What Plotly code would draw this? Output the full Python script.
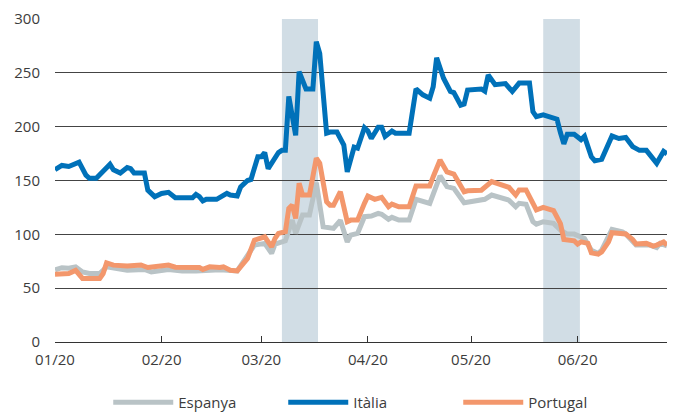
import plotly.graph_objects as go

# ---- Data ----
italia_dates = ["2020-01-01","2020-01-03","2020-01-05","2020-01-08","2020-01-10","2020-01-11","2020-01-13","2020-01-14",
    "2020-01-17","2020-01-18","2020-01-19","2020-01-20","2020-01-22","2020-01-23","2020-01-24","2020-01-27","2020-01-28",
    "2020-01-30","2020-02-01","2020-02-03","2020-02-05","2020-02-07","2020-02-10","2020-02-11","2020-02-12","2020-02-13",
    "2020-02-14","2020-02-17","2020-02-20","2020-02-21","2020-02-23","2020-02-24","2020-02-26","2020-02-27","2020-02-29",
    "2020-03-01","2020-03-02","2020-03-03","2020-03-04","2020-03-06","2020-03-07","2020-03-08","2020-03-09","2020-03-11",
    "2020-03-12","2020-03-14","2020-03-16","2020-03-17","2020-03-18","2020-03-20","2020-03-21","2020-03-23","2020-03-25",
    "2020-03-26","2020-03-28","2020-03-29","2020-03-31","2020-04-01","2020-04-02","2020-04-04","2020-04-05","2020-04-06",
    "2020-04-08","2020-04-09","2020-04-13","2020-04-15","2020-04-17","2020-04-19","2020-04-20","2020-04-21","2020-04-23",
    "2020-04-25","2020-04-26","2020-04-28","2020-04-29","2020-04-30","2020-05-04","2020-05-05","2020-05-06","2020-05-08",
    "2020-05-11","2020-05-13","2020-05-15","2020-05-18","2020-05-19","2020-05-20","2020-05-22","2020-05-24","2020-05-26",
    "2020-05-27","2020-05-28","2020-05-29","2020-05-31","2020-06-02","2020-06-03","2020-06-05","2020-06-06","2020-06-08",
    "2020-06-10","2020-06-11","2020-06-13","2020-06-15","2020-06-17","2020-06-19","2020-06-21","2020-06-24","2020-06-26",
    "2020-06-27"]
italia_values = [160,164,163,167,155,152,152,155,
    165,160,159,157,162,161,157,157,141,
    135,138,139,134,134,134,137,135,131,
    132.5,132.5,138,136.5,135.6,144,150,151,172,
    172,176,161,166,176,178,178,228,192,
    251,235,235,279,268,194,195,195,183,
    158,181,180,199,196,189,199.5,199.5,191,
    196,194,194,235,229.6,226.5,237,264,245,
    232.7,231.7,220,221,234,235,233,248,239,
    240,232.7,240.5,240.5,214,209.4,211,209.4,207,
    194.5,184,193,193,188,191,172,168.4,169.7,
    184.6,191.4,189,190,181.5,178,178,166,177,
    174.7]

portugal_dates = ["2020-01-01","2020-01-03","2020-01-05","2020-01-07","2020-01-09","2020-01-14","2020-01-15","2020-01-16",
    "2020-01-18","2020-01-22","2020-01-26","2020-01-28","2020-01-30","2020-02-01","2020-02-03","2020-02-05","2020-02-12",
    "2020-02-13","2020-02-15","2020-02-18","2020-02-19","2020-02-21","2020-02-23","2020-02-26","2020-02-28","2020-03-02",
    "2020-03-04","2020-03-05","2020-03-06","2020-03-08","2020-03-09","2020-03-10","2020-03-11","2020-03-12","2020-03-13",
    "2020-03-15","2020-03-17","2020-03-18","2020-03-20","2020-03-21","2020-03-22","2020-03-24","2020-03-26","2020-03-27",
    "2020-03-29","2020-03-31","2020-04-01","2020-04-03","2020-04-05","2020-04-07","2020-04-08","2020-04-10","2020-04-13",
    "2020-04-15","2020-04-19","2020-04-20","2020-04-22","2020-04-24","2020-04-26","2020-04-29","2020-04-30","2020-05-04",
    "2020-05-07","2020-05-09","2020-05-11","2020-05-12","2020-05-14","2020-05-15","2020-05-17","2020-05-19","2020-05-20",
    "2020-05-22","2020-05-25","2020-05-27","2020-05-28","2020-05-31","2020-06-01","2020-06-02","2020-06-04","2020-06-05",
    "2020-06-07","2020-06-08","2020-06-10","2020-06-11","2020-06-14","2020-06-15","2020-06-17","2020-06-18","2020-06-21",
    "2020-06-23","2020-06-24","2020-06-26","2020-06-27"]
portugal_values = [63,63.6,63.6,66.5,59,59,63.6,73.5,
    71.4,70.5,71.5,69.2,69.8,69.8,71.4,69.5,69.2,
    67.4,69.8,69.2,69.8,66.7,66,77.6,94.6,97.7,
    88.4,96.2,100.9,102.4,124,127.2,114.8,147.4,136.5,
    136.5,170.7,166,130.3,127,127,139.6,111.7,113.2,
    113.2,128.8,135.6,132.5,134.4,125.6,128.1,125.6,125.6,
    144.9,144.9,153.5,169,158,156,139.6,140.5,141,
    149,146.8,145,143.7,136.5,141.2,141.2,127.2,122.6,
    125,122,110,95.3,94,91,93,91.6,82.8,
    81.6,83.7,93,101.5,100.9,100.3,95.3,91,91.6,
    89,90,93,90]

espanya_dates = ["2020-01-01","2020-01-03","2020-01-05","2020-01-07","2020-01-09","2020-01-11","2020-01-14","2020-01-16",
    "2020-01-19","2020-01-22","2020-01-27","2020-01-29","2020-02-03","2020-02-07","2020-02-11","2020-02-18","2020-02-23",
    "2020-02-28","2020-03-02","2020-03-04","2020-03-05","2020-03-07","2020-03-08","2020-03-10","2020-03-11","2020-03-13",
    "2020-03-15","2020-03-17","2020-03-19","2020-03-22","2020-03-24","2020-03-26","2020-03-27","2020-03-29","2020-03-31",
    "2020-04-02","2020-04-04","2020-04-05","2020-04-07","2020-04-08","2020-04-10","2020-04-13","2020-04-15","2020-04-19",
    "2020-04-20","2020-04-22","2020-04-24","2020-04-26","2020-04-29","2020-05-03","2020-05-05","2020-05-07","2020-05-09",
    "2020-05-11","2020-05-12","2020-05-14","2020-05-15","2020-05-17","2020-05-19","2020-05-20","2020-05-22","2020-05-25",
    "2020-05-27","2020-05-29","2020-05-31","2020-06-03","2020-06-05","2020-06-07","2020-06-08","2020-06-11","2020-06-14",
    "2020-06-15","2020-06-18","2020-06-22","2020-06-24","2020-06-25","2020-06-27"]
espanya_values = [67,69,68.5,69.8,65,63.6,63.6,69.8,
    68.3,66.7,67.4,65.1,67.4,66,66,67,66,
    90,91.6,82.3,91,93,94,113.2,100.9,117.9,
    117.9,148,107,105.5,113,93,99.3,100.9,116.4,
    117,119.5,118.6,114,115.8,113.2,113.2,132.5,128.8,
    138,154.2,144.3,142.7,129.4,131,132.5,136.5,134.4,
    132.5,131.8,125.6,128.8,128,111.7,109.5,111.7,110.2,
    104,100.2,100.2,96.2,85.3,82.3,85.3,104.6,102.4,
    100.3,90,90,87.8,91.6,89.3]

shade_starts = ["2020-03-07", "2020-05-22"]
shade_ends = ["2020-03-17 12:00", "2020-06-01 16:00"]

tick_vals = ["2020-01-01", "2020-02-01", "2020-03-01", "2020-04-01", "2020-05-01", "2020-06-01"]
tick_text = ["01/20", "02/20", "03/20", "04/20", "05/20", "06/20"]

FONT = "Open Sans"
TXT = "#3c3c3c"

fig = go.Figure()
fig.add_trace(go.Scatter(x=espanya_dates, y=espanya_values, name="Espanya", mode="lines",
                         line=dict(color="#b9c3c6", width=5)))
fig.add_trace(go.Scatter(x=italia_dates, y=italia_values, name="Itàlia", mode="lines",
                         line=dict(color="#0071b9", width=5)))
fig.add_trace(go.Scatter(x=portugal_dates, y=portugal_values, name="Portugal", mode="lines",
                         line=dict(color="#f3976c", width=5)))

for s, e in zip(shade_starts, shade_ends):
    fig.add_shape(type="rect", xref="x", yref="paper", x0=s, x1=e, y0=0, y1=1,
                  fillcolor="#d1dde5", line=dict(width=0), layer="below")

fig.update_layout(
    width=678, height=412,
    margin=dict(l=55, r=11, t=19, b=70, autoexpand=False),
    plot_bgcolor="white", paper_bgcolor="white",
    font=dict(family=FONT, size=15, color=TXT),
    showlegend=True,
    legend=dict(orientation="h", x=0.087, xanchor="left", y=-0.187, yanchor="middle",
                font=dict(family=FONT, size=15, color=TXT),
                itemwidth=60, entrywidth=100, entrywidthmode="pixels",
                bgcolor="rgba(0,0,0,0)"),
)
fig.update_xaxes(
    type="date", range=["2020-01-01", "2020-06-27"],
    tickvals=tick_vals, ticktext=tick_text,
    ticks="inside", ticklen=6, tickcolor="#333333", tickwidth=1,
    showline=True, linecolor="#333333", linewidth=1,
    showgrid=False, zeroline=False,
    ticklabelstandoff=4,
)
fig.update_yaxes(
    range=[0, 300], tickvals=[0, 50, 100, 150, 200, 250, 300],
    showgrid=True, gridcolor="#444444", gridwidth=1,
    zeroline=False, showline=False, ticks="",
    ticklabelstandoff=14,
)

fig.write_html("out.html")
